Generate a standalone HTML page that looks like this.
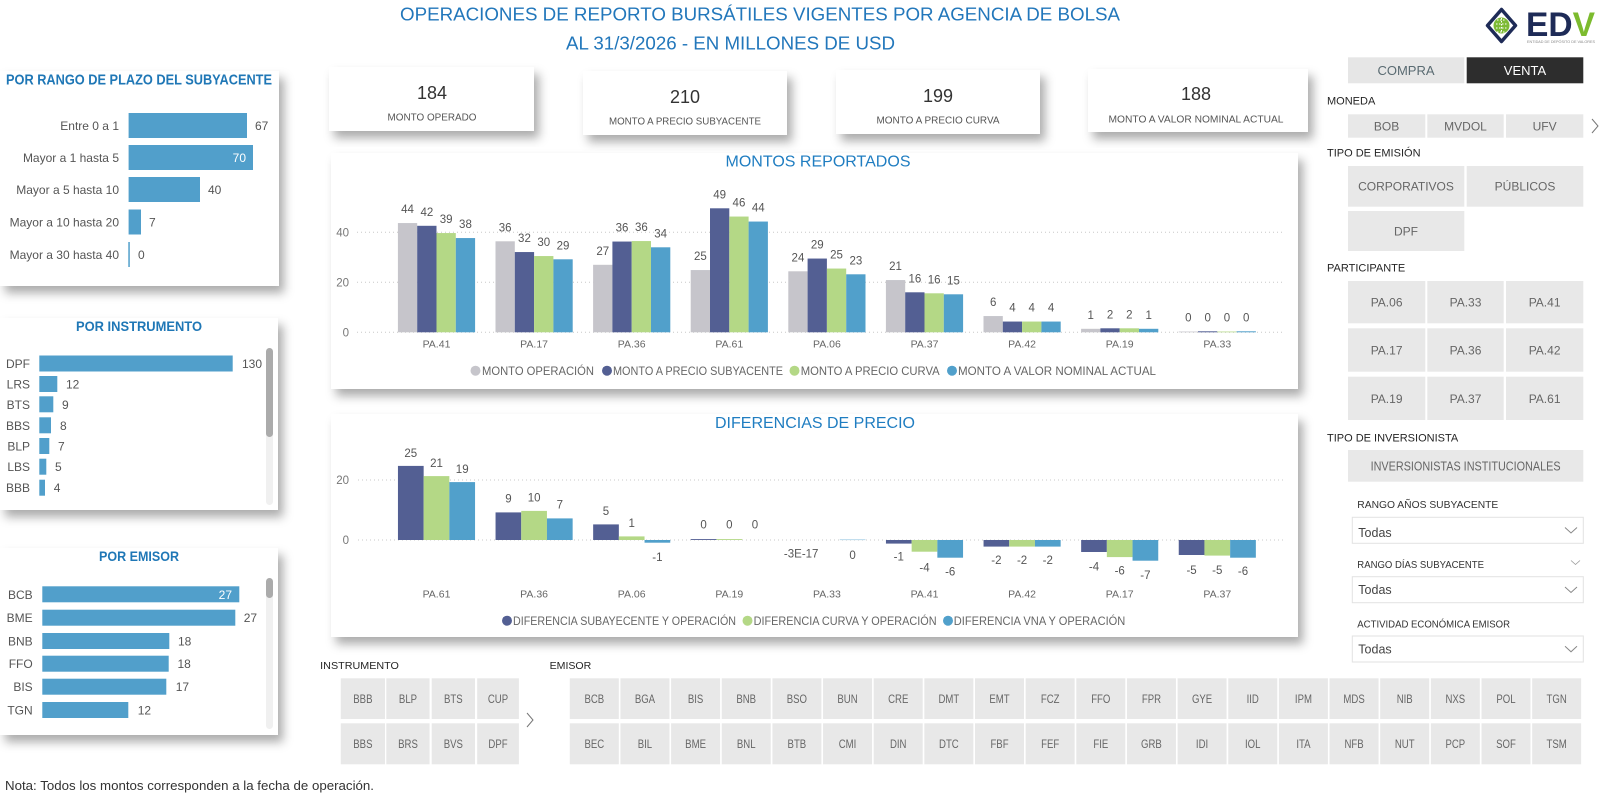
<!DOCTYPE html>
<html><head><meta charset="utf-8"><style>
html,body{margin:0;padding:0;background:#fff}
svg{display:block}
.v{font-size:11.5px;fill:#555;text-anchor:middle}
.ax{font-size:11.5px;fill:#777;text-anchor:end}
.xl{font-size:10.5px;fill:#666;text-anchor:middle}
.cat{font-size:12px;fill:#555;text-anchor:end}
.val{font-size:12px;fill:#555}
.lg{font-size:12px;fill:#666}
.btn{fill:#e8e8e8}
.bt{font-size:12px;fill:#666;text-anchor:middle}
.sl{font-size:12px;fill:#666;text-anchor:middle}
.lab{font-size:11px;fill:#252525}
.ct{font-size:14px;font-weight:bold;fill:#1f77b6;text-anchor:middle}
</style></head><body>
<svg xmlns="http://www.w3.org/2000/svg" width="1605" height="800" viewBox="0 0 1605 800" font-family="Liberation Sans, sans-serif">
<defs>
<filter id="sh" x="-5%" y="-10%" width="115%" height="135%"><feDropShadow dx="5" dy="7" stdDeviation="5" flood-color="#000" flood-opacity="0.33"/></filter>
</defs>
<rect width="1605" height="800" fill="#fff"/>

<!-- Title -->
<text x="400" y="20.7" font-size="18.7" fill="#2277bb" textLength="720" lengthAdjust="spacingAndGlyphs">OPERACIONES DE REPORTO BURSÁTILES VIGENTES POR AGENCIA DE BOLSA</text>
<text x="566" y="49.3" font-size="18.7" fill="#2277bb" textLength="329" lengthAdjust="spacingAndGlyphs">AL 31/3/2026 - EN MILLONES DE USD</text>

<!-- Logo -->
<path d="M1501.5,9.5 L1515.5,25.5 L1501.5,41.5 L1487.5,25.5 Z" fill="#fff" stroke="#1e2b57" stroke-width="3.5" stroke-linejoin="round"/>
<circle cx="1501.5" cy="25.5" r="8" fill="#7dba35"/>
<path d="M1497,20 h9 M1496,24 h11 M1496,28 h11 M1497,32 h9 M1501.5,18 v15" stroke="#fff" stroke-width="1" stroke-dasharray="1.5,1.5"/>
<text x="1526" y="36" font-size="34" font-weight="bold" textLength="69" lengthAdjust="spacingAndGlyphs"><tspan fill="#1e2b57">ED</tspan><tspan fill="#7cbb2e">V</tspan></text>
<text x="1527" y="43" font-size="3.6" fill="#888" textLength="68" lengthAdjust="spacingAndGlyphs">ENTIDAD DE DEPÓSITO DE VALORES</text>

<!-- Cards -->
<rect x="0" y="71" width="279" height="215" fill="#fff" filter="url(#sh)"/>
<rect x="0" y="318" width="278" height="192" fill="#fff" filter="url(#sh)"/>
<rect x="0" y="548" width="278" height="187" fill="#fff" filter="url(#sh)"/>
<rect x="329" y="67" width="205" height="64" fill="#fff" filter="url(#sh)"/>
<rect x="583" y="71" width="204" height="64" fill="#fff" filter="url(#sh)"/>
<rect x="836" y="70" width="204" height="64" fill="#fff" filter="url(#sh)"/>
<rect x="1088" y="69" width="220" height="63" fill="#fff" filter="url(#sh)"/>
<rect x="331" y="153" width="967" height="236" fill="#fff" filter="url(#sh)"/>
<rect x="331" y="414" width="967" height="223" fill="#fff" filter="url(#sh)"/>

<!-- KPI -->
<g font-size="18" fill="#333" text-anchor="middle">
<text x="432" y="99">184</text>
<text x="685" y="103">210</text>
<text x="938" y="102">199</text>
<text x="1196" y="100">188</text>
</g>
<g font-size="10" fill="#555" text-anchor="middle">
<text x="432" y="120.5" textLength="89" lengthAdjust="spacingAndGlyphs">MONTO OPERADO</text>
<text x="685" y="124.5" textLength="152" lengthAdjust="spacingAndGlyphs">MONTO A PRECIO SUBYACENTE</text>
<text x="938" y="123.5" textLength="123" lengthAdjust="spacingAndGlyphs">MONTO A PRECIO CURVA</text>
<text x="1196" y="122.5" textLength="175" lengthAdjust="spacingAndGlyphs">MONTO A VALOR NOMINAL ACTUAL</text>
</g>

<!-- Plazo chart -->
<text x="6" y="84.5" font-size="15" font-weight="bold" fill="#1f77b6" textLength="266" lengthAdjust="spacingAndGlyphs">POR RANGO DE PLAZO DEL SUBYACENTE</text>
<g fill="#519fcb">
<rect x="128.6" y="113" width="118.4" height="25"/>
<rect x="128.6" y="145" width="124.4" height="25"/>
<rect x="128.6" y="177" width="71.4" height="25"/>
<rect x="128.6" y="209.5" width="12.4" height="25"/>
<rect x="128.3" y="242" width="1.5" height="25"/>
</g>
<text class="cat" x="119" y="130">Entre 0 a 1</text>
<text class="cat" x="119" y="162">Mayor a 1 hasta 5</text>
<text class="cat" x="119" y="194">Mayor a 5 hasta 10</text>
<text class="cat" x="119" y="226.5">Mayor a 10 hasta 20</text>
<text class="cat" x="119" y="259">Mayor a 30 hasta 40</text>
<text class="val" x="255" y="130">67</text>
<text class="val" x="246" y="162" text-anchor="end" style="fill:#fff">70</text>
<text class="val" x="208" y="194">40</text>
<text class="val" x="149" y="226.5">7</text>
<text class="val" x="138" y="259">0</text>

<!-- Instrumento chart -->
<text class="ct" x="139" y="331" textLength="126" lengthAdjust="spacingAndGlyphs">POR INSTRUMENTO</text>
<g fill="#519fcb">
<rect x="39.3" y="355.5" width="193.4" height="16"/>
<rect x="39.3" y="376" width="18" height="16"/>
<rect x="39.3" y="396.3" width="14" height="16"/>
<rect x="39.3" y="417.3" width="11.7" height="16"/>
<rect x="39.3" y="438" width="10" height="16"/>
<rect x="39.3" y="458.7" width="7" height="16"/>
<rect x="39.3" y="479.7" width="5.7" height="16"/>
</g>
<text class="cat" x="30" y="367.8">DPF</text>
<text class="cat" x="30" y="388.5">LRS</text>
<text class="cat" x="30" y="408.8">BTS</text>
<text class="cat" x="30" y="429.8">BBS</text>
<text class="cat" x="30" y="450.5">BLP</text>
<text class="cat" x="30" y="471.2">LBS</text>
<text class="cat" x="30" y="492.2">BBB</text>
<text class="val" x="242" y="367.8">130</text>
<text class="val" x="66" y="388.5">12</text>
<text class="val" x="62" y="408.8">9</text>
<text class="val" x="60" y="429.8">8</text>
<text class="val" x="58" y="450.5">7</text>
<text class="val" x="55" y="471.2">5</text>
<text class="val" x="53.7" y="492.2">4</text>
<rect x="266" y="348" width="7" height="157" rx="3.5" fill="#f0f0f0"/>
<rect x="266" y="348" width="7" height="89" rx="3.5" fill="#ababab"/>

<!-- Emisor chart -->
<text class="ct" x="139" y="561" textLength="80" lengthAdjust="spacingAndGlyphs">POR EMISOR</text>
<g fill="#519fcb">
<rect x="42.3" y="586.3" width="197" height="16"/>
<rect x="42.3" y="609.7" width="193" height="16"/>
<rect x="42.3" y="633" width="127" height="16"/>
<rect x="42.3" y="655.7" width="126.4" height="16"/>
<rect x="42.3" y="678.7" width="124" height="16"/>
<rect x="42.3" y="702" width="86" height="16"/>
</g>
<text class="cat" x="32.7" y="598.8">BCB</text>
<text class="cat" x="32.7" y="622.2">BME</text>
<text class="cat" x="32.7" y="645.5">BNB</text>
<text class="cat" x="32.7" y="668.2">FFO</text>
<text class="cat" x="32.7" y="691.2">BIS</text>
<text class="cat" x="32.7" y="714.5">TGN</text>
<text class="val" x="232" y="598.8" text-anchor="end" style="fill:#fff">27</text>
<text class="val" x="243.7" y="622.2">27</text>
<text class="val" x="178" y="645.5">18</text>
<text class="val" x="177.5" y="668.2">18</text>
<text class="val" x="175.7" y="691.2">17</text>
<text class="val" x="137.7" y="714.5">12</text>
<rect x="266" y="578" width="7" height="151" rx="3.5" fill="#f0f0f0"/>
<rect x="266" y="578" width="7" height="20" rx="3.5" fill="#ababab"/>

<!-- MONTOS REPORTADOS -->
<text x="818" y="166.5" font-size="15.5" fill="#1f7dc1" text-anchor="middle" textLength="185" lengthAdjust="spacingAndGlyphs">MONTOS REPORTADOS</text>
<g stroke="#c8c8c8" stroke-width="1" stroke-dasharray="1,3">
<line x1="357" y1="232.3" x2="1285" y2="232.3"/>
<line x1="357" y1="282.3" x2="1285" y2="282.3"/>
<line x1="357" y1="332.3" x2="1285" y2="332.3"/>
</g>
<text class="ax" x="349" y="236.3">40</text>
<text class="ax" x="349" y="286.3">20</text>
<text class="ax" x="349" y="336.3">0</text>
<g fill="#c6c5cb">
<rect x="397.9" y="223.05" width="19.3" height="109.25"/>
<rect x="495.5" y="241.3" width="19.3" height="91"/>
<rect x="593.1" y="264.8" width="19.3" height="67.5"/>
<rect x="690.7" y="270.05" width="19.3" height="62.25"/>
<rect x="788.3" y="271.3" width="19.3" height="61"/>
<rect x="885.9" y="280.05" width="19.3" height="52.25"/>
<rect x="983.5" y="316.05" width="19.3" height="16.25"/>
<rect x="1081.1" y="328.8" width="19.3" height="3.5"/>
<rect x="1178.7" y="331.55" width="19.3" height="0.75"/>
</g>
<g fill="#535f93">
<rect x="417.2" y="225.8" width="19.3" height="106.5"/>
<rect x="514.8" y="252.05" width="19.3" height="80.25"/>
<rect x="612.4" y="241.55" width="19.3" height="90.75"/>
<rect x="710.0" y="208.3" width="19.3" height="124"/>
<rect x="807.6" y="258.55" width="19.3" height="73.75"/>
<rect x="905.2" y="292.3" width="19.3" height="40"/>
<rect x="1002.8" y="321.55" width="19.3" height="10.75"/>
<rect x="1100.4" y="328.3" width="19.3" height="4"/>
<rect x="1198.0" y="331.3" width="19.3" height="1"/>
</g>
<g fill="#b4d886">
<rect x="436.5" y="233.05" width="19.3" height="99.25"/>
<rect x="534.1" y="256.05" width="19.3" height="76.25"/>
<rect x="631.7" y="241.05" width="19.3" height="91.25"/>
<rect x="729.3" y="216.55" width="19.3" height="115.75"/>
<rect x="826.9" y="268.55" width="19.3" height="63.75"/>
<rect x="924.5" y="293.3" width="19.3" height="39"/>
<rect x="1022.1" y="321.55" width="19.3" height="10.75"/>
<rect x="1119.7" y="328.3" width="19.3" height="4"/>
<rect x="1217.3" y="331.55" width="19.3" height="0.75"/>
</g>
<g fill="#51a0cb">
<rect x="455.8" y="238.05" width="19.3" height="94.25"/>
<rect x="553.4" y="259.3" width="19.3" height="73"/>
<rect x="651.0" y="247.3" width="19.3" height="85"/>
<rect x="748.6" y="221.55" width="19.3" height="110.75"/>
<rect x="846.2" y="274.3" width="19.3" height="58"/>
<rect x="943.8" y="294.3" width="19.3" height="38"/>
<rect x="1041.4" y="321.55" width="19.3" height="10.75"/>
<rect x="1139.0" y="328.8" width="19.3" height="3.5"/>
<rect x="1236.6" y="331.3" width="19.3" height="1"/>
</g>
<g>
<text class="v" x="407.55" y="213">44</text><text class="v" x="426.85" y="215.8">42</text><text class="v" x="446.15" y="223">39</text><text class="v" x="465.45" y="228">38</text>
<text class="v" x="505.15" y="231.3">36</text><text class="v" x="524.45" y="242">32</text><text class="v" x="543.75" y="246">30</text><text class="v" x="563.05" y="249.3">29</text>
<text class="v" x="602.75" y="254.8">27</text><text class="v" x="622.05" y="231.5">36</text><text class="v" x="641.35" y="231">36</text><text class="v" x="660.65" y="237.3">34</text>
<text class="v" x="700.35" y="260">25</text><text class="v" x="719.65" y="198.3">49</text><text class="v" x="738.95" y="206.5">46</text><text class="v" x="758.25" y="211.5">44</text>
<text class="v" x="797.95" y="261.3">24</text><text class="v" x="817.25" y="248.5">29</text><text class="v" x="836.55" y="258.5">25</text><text class="v" x="855.85" y="264.3">23</text>
<text class="v" x="895.55" y="270">21</text><text class="v" x="914.85" y="282.3">16</text><text class="v" x="934.15" y="283.3">16</text><text class="v" x="953.45" y="284.3">15</text>
<text class="v" x="993.15" y="306">6</text><text class="v" x="1012.45" y="311.5">4</text><text class="v" x="1031.75" y="311.5">4</text><text class="v" x="1051.05" y="311.5">4</text>
<text class="v" x="1090.75" y="318.8">1</text><text class="v" x="1110.05" y="318.3">2</text><text class="v" x="1129.35" y="318.3">2</text><text class="v" x="1148.65" y="318.8">1</text>
<text class="v" x="1188.35" y="321.5">0</text><text class="v" x="1207.65" y="321.3">0</text><text class="v" x="1226.95" y="321.5">0</text><text class="v" x="1246.25" y="321.3">0</text>
</g>
<text class="xl" x="436.5" y="347.3">PA.41</text>
<text class="xl" x="534.1" y="347.3">PA.17</text>
<text class="xl" x="631.7" y="347.3">PA.36</text>
<text class="xl" x="729.3" y="347.3">PA.61</text>
<text class="xl" x="826.9" y="347.3">PA.06</text>
<text class="xl" x="924.5" y="347.3">PA.37</text>
<text class="xl" x="1022.1" y="347.3">PA.42</text>
<text class="xl" x="1119.7" y="347.3">PA.19</text>
<text class="xl" x="1217.3" y="347.3">PA.33</text>
<circle cx="475.5" cy="370.7" r="5" fill="#c6c5cb"/>
<text class="lg" x="482" y="375" textLength="112" lengthAdjust="spacingAndGlyphs">MONTO OPERACIÓN</text>
<circle cx="607" cy="370.7" r="5" fill="#535f93"/>
<text class="lg" x="613" y="375" textLength="170" lengthAdjust="spacingAndGlyphs">MONTO A PRECIO SUBYACENTE</text>
<circle cx="794.5" cy="370.7" r="5" fill="#b4d886"/>
<text class="lg" x="800.7" y="375" textLength="139" lengthAdjust="spacingAndGlyphs">MONTO A PRECIO CURVA</text>
<circle cx="952" cy="370.7" r="5" fill="#51a0cb"/>
<text class="lg" x="958" y="375" textLength="198" lengthAdjust="spacingAndGlyphs">MONTO A VALOR NOMINAL ACTUAL</text>

<!-- DIFERENCIAS DE PRECIO -->
<text x="815" y="428" font-size="15.5" fill="#1f7dc1" text-anchor="middle" textLength="200" lengthAdjust="spacingAndGlyphs">DIFERENCIAS DE PRECIO</text>
<g stroke="#c8c8c8" stroke-width="1" stroke-dasharray="1,3">
<line x1="358" y1="480" x2="1285" y2="480"/>
<line x1="358" y1="540" x2="1285" y2="540"/>
</g>
<text class="ax" x="349" y="484">20</text>
<text class="ax" x="349" y="544">0</text>
<g fill="#535f93">
<rect x="397.95" y="465.9" width="25.7" height="74.1"/>
<rect x="495.55" y="512.4" width="25.7" height="27.6"/>
<rect x="593.15" y="524.4" width="25.7" height="15.6"/>
<rect x="690.75" y="539.1" width="25.7" height="0.9"/>
<rect x="885.95" y="540" width="25.7" height="3.6"/>
<rect x="983.55" y="540" width="25.7" height="6.6"/>
<rect x="1081.15" y="540" width="25.7" height="12"/>
<rect x="1178.75" y="540" width="25.7" height="15"/>
</g>
<g fill="#b4d886">
<rect x="423.65" y="476.1" width="25.7" height="63.9"/>
<rect x="521.25" y="510.9" width="25.7" height="29.1"/>
<rect x="618.85" y="536.4" width="25.7" height="3.6"/>
<rect x="716.45" y="539.1" width="25.7" height="0.9"/>
<rect x="911.65" y="540" width="25.7" height="11.7"/>
<rect x="1009.25" y="540" width="25.7" height="6.6"/>
<rect x="1106.85" y="540" width="25.7" height="17.1"/>
<rect x="1204.45" y="540" width="25.7" height="15.6"/>
</g>
<g fill="#51a0cb">
<rect x="449.35" y="482.1" width="25.7" height="57.9"/>
<rect x="546.95" y="518.4" width="25.7" height="21.6"/>
<rect x="644.55" y="540" width="25.7" height="2.7"/>
<rect x="839.75" y="539.3" width="25.7" height="0.8" fill="#a8cfe6"/>
<rect x="937.35" y="540" width="25.7" height="17.7"/>
<rect x="1034.95" y="540" width="25.7" height="6.6"/>
<rect x="1132.55" y="540" width="25.7" height="20.7"/>
<rect x="1230.15" y="540" width="25.7" height="17.7"/>
</g>
<text class="v" x="410.8" y="457">25</text><text class="v" x="436.5" y="467">21</text><text class="v" x="462.2" y="473">19</text>
<text class="v" x="508.4" y="502.5">9</text><text class="v" x="534.1" y="501.5">10</text><text class="v" x="559.8" y="508.5">7</text>
<text class="v" x="606" y="515.2">5</text><text class="v" x="631.7" y="527">1</text><text class="v" x="657.4" y="561">-1</text>
<text class="v" x="703.6" y="528.3">0</text><text class="v" x="729.3" y="528.3">0</text><text class="v" x="755" y="528.3">0</text>
<text class="v" x="801.2" y="557.3">-3E-17</text><text class="v" x="852.6" y="559">0</text>
<text class="v" x="898.8" y="560.7">-1</text><text class="v" x="924.5" y="571.3">-4</text><text class="v" x="950.2" y="575.7">-6</text>
<text class="v" x="996.4" y="564">-2</text><text class="v" x="1022.1" y="564">-2</text><text class="v" x="1047.8" y="564">-2</text>
<text class="v" x="1094" y="570.7">-4</text><text class="v" x="1119.7" y="574.7">-6</text><text class="v" x="1145.4" y="579">-7</text>
<text class="v" x="1191.6" y="574">-5</text><text class="v" x="1217.3" y="574">-5</text><text class="v" x="1243" y="575">-6</text>
<text class="xl" x="436.5" y="597.3">PA.61</text>
<text class="xl" x="534.1" y="597.3">PA.36</text>
<text class="xl" x="631.7" y="597.3">PA.06</text>
<text class="xl" x="729.3" y="597.3">PA.19</text>
<text class="xl" x="826.9" y="597.3">PA.33</text>
<text class="xl" x="924.5" y="597.3">PA.41</text>
<text class="xl" x="1022.1" y="597.3">PA.42</text>
<text class="xl" x="1119.7" y="597.3">PA.17</text>
<text class="xl" x="1217.3" y="597.3">PA.37</text>
<circle cx="507" cy="620.7" r="5" fill="#535f93"/>
<text class="lg" x="513" y="625" textLength="223" lengthAdjust="spacingAndGlyphs">DIFERENCIA SUBAYECENTE Y OPERACIÓN</text>
<circle cx="747.5" cy="620.7" r="5" fill="#b4d886"/>
<text class="lg" x="753.6" y="625" textLength="183" lengthAdjust="spacingAndGlyphs">DIFERENCIA CURVA Y OPERACIÓN</text>
<circle cx="948" cy="620.7" r="5" fill="#51a0cb"/>
<text class="lg" x="953.8" y="625" textLength="171.5" lengthAdjust="spacingAndGlyphs">DIFERENCIA VNA Y OPERACIÓN</text>

<!-- Right panel -->
<rect x="1348" y="57.3" width="116.3" height="26" fill="#e6e6e6"/>
<rect x="1466.7" y="57.3" width="116.6" height="26" fill="#2d2d2d"/>
<text x="1406" y="74.8" font-size="13" fill="#5a6b72" text-anchor="middle">COMPRA</text>
<text x="1525" y="74.8" font-size="13" fill="#fff" text-anchor="middle">VENTA</text>

<text class="lab" x="1327" y="104.7">MONEDA</text>
<rect class="btn" x="1348" y="114.3" width="77.3" height="23.4"/>
<rect class="btn" x="1427.3" y="114.3" width="76.4" height="23.4"/>
<rect class="btn" x="1506" y="114.3" width="77.3" height="23.4"/>
<text class="bt" x="1386.6" y="130.3">BOB</text>
<text class="bt" x="1465.5" y="130.3">MVDOL</text>
<text class="bt" x="1544.6" y="130.3">UFV</text>
<path d="M1592,119 L1598,126 L1592,133" fill="none" stroke="#777" stroke-width="1"/>

<text class="lab" x="1327" y="156.7">TIPO DE EMISIÓN</text>
<rect class="btn" x="1348" y="166" width="116.3" height="40.7"/>
<rect class="btn" x="1466.7" y="166" width="116.6" height="40.7"/>
<rect class="btn" x="1348" y="211" width="116.3" height="40"/>
<text class="bt" x="1406" y="190.5">CORPORATIVOS</text>
<text class="bt" x="1525" y="190.5">PÚBLICOS</text>
<text class="bt" x="1406" y="235.3">DPF</text>

<text class="lab" x="1327" y="271.7">PARTICIPANTE</text>
<rect class="btn" x="1348" y="281" width="77.3" height="42.3"/>
<rect class="btn" x="1427.3" y="281" width="76.4" height="42.3"/>
<rect class="btn" x="1506" y="281" width="77.3" height="42.3"/>
<rect class="btn" x="1348" y="328.3" width="77.3" height="43.4"/>
<rect class="btn" x="1427.3" y="328.3" width="76.4" height="43.4"/>
<rect class="btn" x="1506" y="328.3" width="77.3" height="43.4"/>
<rect class="btn" x="1348" y="376.7" width="77.3" height="43.3"/>
<rect class="btn" x="1427.3" y="376.7" width="76.4" height="43.3"/>
<rect class="btn" x="1506" y="376.7" width="77.3" height="43.3"/>
<text class="bt" x="1386.6" y="306.5">PA.06</text>
<text class="bt" x="1465.5" y="306.5">PA.33</text>
<text class="bt" x="1544.6" y="306.5">PA.41</text>
<text class="bt" x="1386.6" y="354.5">PA.17</text>
<text class="bt" x="1465.5" y="354.5">PA.36</text>
<text class="bt" x="1544.6" y="354.5">PA.42</text>
<text class="bt" x="1386.6" y="402.8">PA.19</text>
<text class="bt" x="1465.5" y="402.8">PA.37</text>
<text class="bt" x="1544.6" y="402.8">PA.61</text>

<text class="lab" x="1327" y="441.5">TIPO DE INVERSIONISTA</text>
<rect class="btn" x="1348" y="450" width="235.3" height="31.7"/>
<text x="1465.6" y="470.3" font-size="12.5" fill="#666" text-anchor="middle" textLength="190" lengthAdjust="spacingAndGlyphs">INVERSIONISTAS INSTITUCIONALES</text>

<text x="1357.3" y="508" font-size="10.5" fill="#333" textLength="141" lengthAdjust="spacingAndGlyphs">RANGO AÑOS SUBYACENTE</text>
<rect x="1352.3" y="517.3" width="231" height="26" fill="#fff" stroke="#e2e2e2"/>
<text x="1358.3" y="536.8" font-size="12.5" fill="#444">Todas</text>
<path d="M1565,527.5 L1571,533 L1577,527.5" fill="none" stroke="#888" stroke-width="1"/>

<text x="1357.3" y="568" font-size="10.5" fill="#333" textLength="126.7" lengthAdjust="spacingAndGlyphs">RANGO DÍAS SUBYACENTE</text>
<path d="M1571,560.5 L1575.5,564.5 L1580,560.5" fill="none" stroke="#999" stroke-width="0.8"/>
<rect x="1352.3" y="576.7" width="231" height="26" fill="#fff" stroke="#e2e2e2"/>
<text x="1358.3" y="594.2" font-size="12.5" fill="#444">Todas</text>
<path d="M1565,587 L1571,592.5 L1577,587" fill="none" stroke="#888" stroke-width="1"/>

<text x="1357.3" y="627.3" font-size="10.5" fill="#333" textLength="152.7" lengthAdjust="spacingAndGlyphs">ACTIVIDAD ECONÓMICA EMISOR</text>
<rect x="1352.3" y="636" width="231" height="26" fill="#fff" stroke="#e2e2e2"/>
<text x="1358.3" y="653.5" font-size="12.5" fill="#444">Todas</text>
<path d="M1565,646.3 L1571,651.8 L1577,646.3" fill="none" stroke="#888" stroke-width="1"/>

<!-- Bottom slicers -->
<text x="320.2" y="669" font-size="10.5" fill="#252525" textLength="78.7" lengthAdjust="spacingAndGlyphs">INSTRUMENTO</text>
<text x="549.6" y="669" font-size="10.5" fill="#252525" textLength="41.7" lengthAdjust="spacingAndGlyphs">EMISOR</text>
<g class="btn">
<rect x="340.8" y="678.3" width="44.2" height="40.7"/><rect x="386.3" y="678.3" width="43.3" height="40.7"/><rect x="431.7" y="678.3" width="43.3" height="40.7"/><rect x="477.2" y="678.3" width="41.7" height="40.7"/>
<rect x="340.8" y="723.3" width="44.2" height="41"/><rect x="386.3" y="723.3" width="43.3" height="41"/><rect x="431.7" y="723.3" width="43.3" height="41"/><rect x="477.2" y="723.3" width="41.7" height="41"/>
</g>
<path d="M516,713 L522,720 L516,727" fill="none" stroke="#777" stroke-width="1" transform="translate(11,0)"/>
<g fill="#e8e8e8">
<rect x="569.8" y="678.3" width="49" height="40.7"/><rect x="620.45" y="678.3" width="49" height="40.7"/><rect x="671.1" y="678.3" width="49" height="40.7"/><rect x="721.75" y="678.3" width="49" height="40.7"/><rect x="772.4" y="678.3" width="49" height="40.7"/><rect x="823.05" y="678.3" width="49" height="40.7"/><rect x="873.7" y="678.3" width="49" height="40.7"/><rect x="924.35" y="678.3" width="49" height="40.7"/><rect x="975" y="678.3" width="49" height="40.7"/><rect x="1025.65" y="678.3" width="49" height="40.7"/><rect x="1076.3" y="678.3" width="49" height="40.7"/><rect x="1126.95" y="678.3" width="49" height="40.7"/><rect x="1177.6" y="678.3" width="49" height="40.7"/><rect x="1228.25" y="678.3" width="49" height="40.7"/><rect x="1278.9" y="678.3" width="49" height="40.7"/><rect x="1329.55" y="678.3" width="49" height="40.7"/><rect x="1380.2" y="678.3" width="49" height="40.7"/><rect x="1430.85" y="678.3" width="49" height="40.7"/><rect x="1481.5" y="678.3" width="49" height="40.7"/><rect x="1532.15" y="678.3" width="49" height="40.7"/>
<rect x="569.8" y="723.3" width="49" height="41"/><rect x="620.45" y="723.3" width="49" height="41"/><rect x="671.1" y="723.3" width="49" height="41"/><rect x="721.75" y="723.3" width="49" height="41"/><rect x="772.4" y="723.3" width="49" height="41"/><rect x="823.05" y="723.3" width="49" height="41"/><rect x="873.7" y="723.3" width="49" height="41"/><rect x="924.35" y="723.3" width="49" height="41"/><rect x="975" y="723.3" width="49" height="41"/><rect x="1025.65" y="723.3" width="49" height="41"/><rect x="1076.3" y="723.3" width="49" height="41"/><rect x="1126.95" y="723.3" width="49" height="41"/><rect x="1177.6" y="723.3" width="49" height="41"/><rect x="1228.25" y="723.3" width="49" height="41"/><rect x="1278.9" y="723.3" width="49" height="41"/><rect x="1329.55" y="723.3" width="49" height="41"/><rect x="1380.2" y="723.3" width="49" height="41"/><rect x="1430.85" y="723.3" width="49" height="41"/><rect x="1481.5" y="723.3" width="49" height="41"/><rect x="1532.15" y="723.3" width="49" height="41"/>
</g>
<g transform="scale(0.8,1)">
<text class="sl" x="453.6" y="703">BBB</text><text class="sl" x="510" y="703">BLP</text><text class="sl" x="566.7" y="703">BTS</text><text class="sl" x="622.5" y="703">CUP</text>
<text class="sl" x="453.6" y="748">BBS</text><text class="sl" x="510" y="748">BRS</text><text class="sl" x="566.7" y="748">BVS</text><text class="sl" x="622.5" y="748">DPF</text>
<text class="sl" x="742.9" y="703">BCB</text><text class="sl" x="806.2" y="703">BGA</text><text class="sl" x="869.5" y="703">BIS</text><text class="sl" x="932.8" y="703">BNB</text><text class="sl" x="996.1" y="703">BSO</text><text class="sl" x="1059.4" y="703">BUN</text><text class="sl" x="1122.8" y="703">CRE</text><text class="sl" x="1186.1" y="703">DMT</text><text class="sl" x="1249.4" y="703">EMT</text><text class="sl" x="1312.7" y="703">FCZ</text><text class="sl" x="1376" y="703">FFO</text><text class="sl" x="1439.3" y="703">FPR</text><text class="sl" x="1502.6" y="703">GYE</text><text class="sl" x="1565.9" y="703">IID</text><text class="sl" x="1629.3" y="703">IPM</text><text class="sl" x="1692.6" y="703">MDS</text><text class="sl" x="1755.9" y="703">NIB</text><text class="sl" x="1819.2" y="703">NXS</text><text class="sl" x="1882.5" y="703">POL</text><text class="sl" x="1945.8" y="703">TGN</text>
<text class="sl" x="742.9" y="748">BEC</text><text class="sl" x="806.2" y="748">BIL</text><text class="sl" x="869.5" y="748">BME</text><text class="sl" x="932.8" y="748">BNL</text><text class="sl" x="996.1" y="748">BTB</text><text class="sl" x="1059.4" y="748">CMI</text><text class="sl" x="1122.8" y="748">DIN</text><text class="sl" x="1186.1" y="748">DTC</text><text class="sl" x="1249.4" y="748">FBF</text><text class="sl" x="1312.7" y="748">FEF</text><text class="sl" x="1376" y="748">FIE</text><text class="sl" x="1439.3" y="748">GRB</text><text class="sl" x="1502.6" y="748">IDI</text><text class="sl" x="1565.9" y="748">IOL</text><text class="sl" x="1629.3" y="748">ITA</text><text class="sl" x="1692.6" y="748">NFB</text><text class="sl" x="1755.9" y="748">NUT</text><text class="sl" x="1819.2" y="748">PCP</text><text class="sl" x="1882.5" y="748">SOF</text><text class="sl" x="1945.8" y="748">TSM</text>
</g>

<text x="5" y="790" font-size="12.5" fill="#333" textLength="369" lengthAdjust="spacingAndGlyphs">Nota: Todos los montos corresponden a la fecha de operación.</text>
</svg>
</body></html>
